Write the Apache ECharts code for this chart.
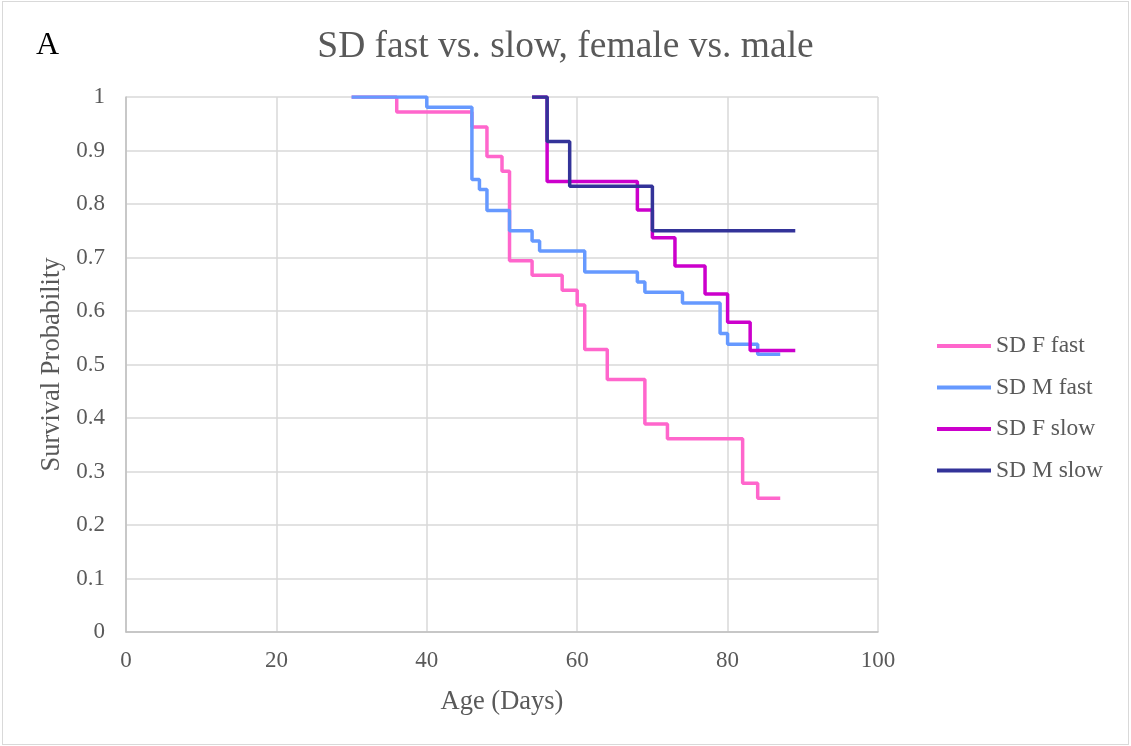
<!DOCTYPE html>
<html>
<head>
<meta charset="utf-8">
<script src="https://cdn.jsdelivr.net/npm/echarts@6/dist/echarts.min.js"></script>
<style>
html,body{margin:0;padding:0;background:#fff;}
#wrap{position:absolute;left:2px;top:1px;width:1127px;height:744px;border:1px solid #d9d9d9;box-sizing:border-box;}
#chart{width:1131px;height:746px;position:absolute;left:0;top:0;}
</style>
</head>
<body>
<div id="wrap"></div>
<div id="chart"></div>
<script>
var seriesNames = ['SD F fast', 'SD M fast', 'SD F slow', 'SD M slow'];

var fFastDays = [30, 36, 46, 48, 50, 51, 54, 58, 60, 61, 64, 69, 72, 82, 84, 87];
var fFastSurv = [1, 0.972, 0.944, 0.889, 0.861, 0.694, 0.667, 0.639, 0.611, 0.528, 0.472, 0.389, 0.361, 0.278, 0.25, 0.25];

var mFastDays = [30, 40, 46, 47, 48, 51, 54, 55, 61, 68, 69, 74, 79, 80, 84, 87];
var mFastSurv = [1, 0.981, 0.846, 0.827, 0.788, 0.75, 0.731, 0.712, 0.673, 0.654, 0.635, 0.615, 0.558, 0.538, 0.519, 0.519];

var fSlowDays = [54, 56, 68, 70, 73, 77, 80, 83, 89];
var fSlowSurv = [1, 0.842, 0.789, 0.737, 0.684, 0.632, 0.579, 0.526, 0.526];

var mSlowDays = [54, 56, 59, 70, 89];
var mSlowSurv = [1, 0.917, 0.833, 0.75, 0.75];

var colors = ['#FF66CC', '#6699FF', '#CC00CC', '#333399'];

function pairs(xs, ys) { return xs.map(function (x, i) { return [x, ys[i]]; }); }
var allData = [pairs(fFastDays, fFastSurv), pairs(mFastDays, mFastSurv), pairs(fSlowDays, fSlowSurv), pairs(mSlowDays, mSlowSurv)];

var font = '"Liberation Serif", "Times New Roman", serif';
var chart = echarts.init(document.getElementById('chart'), null, {renderer: 'canvas'});
chart.setOption({
  animation: false,
  backgroundColor: 'transparent',
  title: [
    {text: 'SD fast vs. slow, female vs. male', left: 'center', top: 23,
     textStyle: {fontFamily: font, fontSize: 37.5, fontWeight: 'normal', color: '#595959'}},
    {text: 'A', left: 31, top: 25,
     textStyle: {fontFamily: font, fontSize: 32, fontWeight: 'normal', color: '#000'}}
  ],
  legend: {
    orient: 'vertical', left: 932, top: 329, itemWidth: 54, itemHeight: 4, itemGap: 17.5,
    icon: 'rect',
    textStyle: {fontFamily: font, fontSize: 23.5, color: '#595959'},
    data: seriesNames
  },
  grid: {left: 126, right: 253, top: 97, bottom: 114, containLabel: false},
  xAxis: {
    type: 'value', min: 0, max: 100, interval: 20,
    name: 'Age (Days)', nameLocation: 'middle', nameGap: 57,
    nameTextStyle: {fontFamily: font, fontSize: 26.5, color: '#595959'},
    axisLine: {show: true, lineStyle: {color: '#bfbfbf', width: 1.5}},
    axisTick: {show: false},
    axisLabel: {fontFamily: font, fontSize: 23, color: '#595959', margin: 17},
    splitLine: {show: true, lineStyle: {color: '#d9d9d9', width: 1.5}}
  },
  yAxis: {
    type: 'value', min: 0, max: 1, interval: 0.1,
    name: 'Survival Probability', nameLocation: 'middle', nameGap: 55,
    nameTextStyle: {fontFamily: font, fontSize: 26.5, color: '#595959'},
    axisLine: {show: true, lineStyle: {color: '#bfbfbf', width: 1.5}},
    axisTick: {show: false},
    axisLabel: {fontFamily: font, fontSize: 23, color: '#595959', margin: 21,
      formatter: function (v) { return String(Math.round(v * 10) / 10); }},
    splitLine: {show: true, lineStyle: {color: '#d9d9d9', width: 1.5}}
  },
  series: allData.map(function (d, i) {
    return {
      name: seriesNames[i], type: 'line', step: 'end', data: d,
      symbol: 'none', color: colors[i],
      lineStyle: {width: 3.5, color: colors[i]}
    };
  })
});
</script>
</body>
</html>
